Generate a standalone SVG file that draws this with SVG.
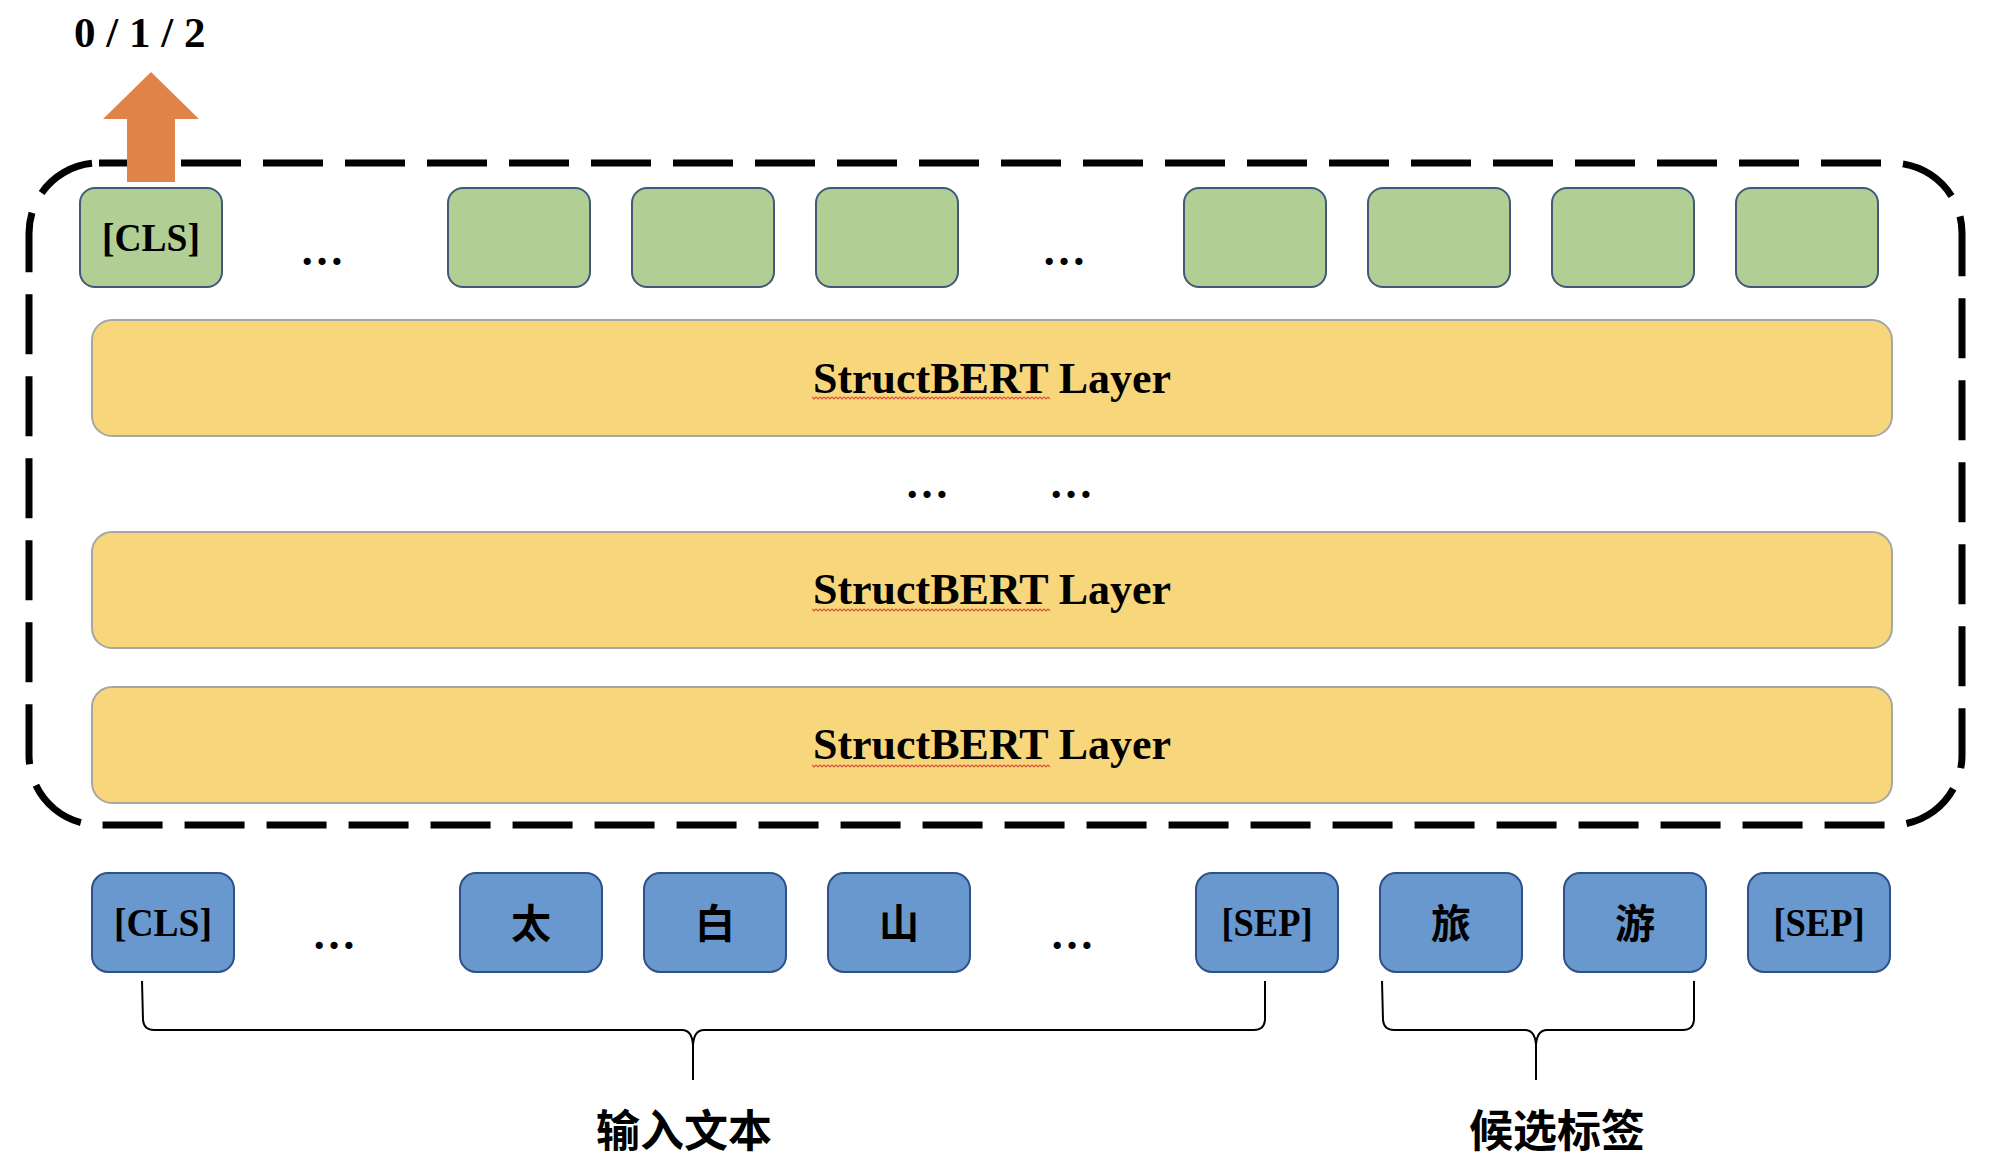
<svg xmlns="http://www.w3.org/2000/svg" width="1990" height="1172" viewBox="0 0 1990 1172">
<defs>
<style>
.bg{fill:#ffffff}
.green{fill:#B1CE95;stroke:#41587A;stroke-width:2}
.blue{fill:#6998CE;stroke:#2E5189;stroke-width:2}
.layer{fill:#F8D77C;stroke:#A6A6A6;stroke-width:2}
.frame{fill:none;stroke:#000;stroke-width:7;stroke-dasharray:60 22}
.tok{font-family:"Liberation Serif","Times New Roman",serif;font-weight:bold;font-size:41px;fill:#000;text-anchor:middle}
.cjk{font-family:"Noto Sans CJK SC","Noto Sans CJK TC",sans-serif;font-weight:bold;font-size:40px;fill:#000;text-anchor:middle}
.lbl{font-family:"Noto Sans CJK SC","Noto Sans CJK TC",sans-serif;font-weight:bold;font-size:44px;fill:#000;text-anchor:middle}
.lay{font-family:"Liberation Serif","Times New Roman",serif;font-weight:bold;font-size:44px;fill:#000;text-anchor:middle}
.dots{font-family:"Liberation Serif","Times New Roman",serif;font-weight:bold;font-size:44px;fill:#000;text-anchor:middle}
.brace{fill:none;stroke:#000;stroke-width:2}
.squig{fill:url(#wave)}
</style>
<pattern id="wave" patternUnits="userSpaceOnUse" x="812" y="0" width="4" height="4">
<path d="M0,0.8 L2,2.8 L4,0.8" fill="none" stroke="#D9503C" stroke-width="1.2"/>
</pattern>
</defs>
<rect class="bg" x="0" y="0" width="1990" height="1172"/>

<g id="output-label">
<text x="74" y="47" font-family="'Liberation Serif','Times New Roman',serif" font-weight="bold" font-size="43">0 / 1 / 2</text>
</g>

<g id="encoder-frame">
<rect class="frame" x="29" y="163" width="1933" height="662" rx="70" ry="70"/>
</g>

<g id="output-arrow">
<polygon points="151,72 199,119 175,119 175,182 127,182 127,119 103,119" fill="#E08348"/>
</g>

<g id="output-tokens">
<g id="out-cls"><rect class="green" x="80" y="188" width="142" height="99" rx="15"/><text class="tok" x="151" y="251" textLength="98" lengthAdjust="spacingAndGlyphs">[CLS]</text></g>
<g id="out-dots1"><text class="dots" x="322" y="265">…</text></g>
<g id="out-2"><rect class="green" x="448" y="188" width="142" height="99" rx="15"/></g>
<g id="out-3"><rect class="green" x="632" y="188" width="142" height="99" rx="15"/></g>
<g id="out-4"><rect class="green" x="816" y="188" width="142" height="99" rx="15"/></g>
<g id="out-dots2"><text class="dots" x="1064" y="265">…</text></g>
<g id="out-6"><rect class="green" x="1184" y="188" width="142" height="99" rx="15"/></g>
<g id="out-7"><rect class="green" x="1368" y="188" width="142" height="99" rx="15"/></g>
<g id="out-8"><rect class="green" x="1552" y="188" width="142" height="99" rx="15"/></g>
<g id="out-9"><rect class="green" x="1736" y="188" width="142" height="99" rx="15"/></g>
</g>

<g id="layer-top">
<rect class="layer" x="92" y="320" width="1800" height="116" rx="20"/>
<text class="lay" x="992" y="393">StructBERT Layer</text>
<rect class="squig" x="812" y="396" width="238" height="4"/>
</g>

<g id="layer-dots">
<text class="dots" x="927" y="498">…</text>
<text class="dots" x="1071" y="498">…</text>
</g>

<g id="layer-mid">
<rect class="layer" x="92" y="532" width="1800" height="116" rx="20"/>
<text class="lay" x="992" y="604">StructBERT Layer</text>
<rect class="squig" x="812" y="608" width="238" height="4"/>
</g>

<g id="layer-bottom">
<rect class="layer" x="92" y="687" width="1800" height="116" rx="20"/>
<text class="lay" x="992" y="759">StructBERT Layer</text>
<rect class="squig" x="812" y="764" width="238" height="4"/>
</g>

<g id="input-tokens">
<g id="in-cls"><rect class="blue" x="92" y="873" width="142" height="99" rx="16"/><text class="tok" x="163" y="936" textLength="98" lengthAdjust="spacingAndGlyphs">[CLS]</text></g>
<g id="in-dots1"><text class="dots" x="334" y="949">…</text></g>
<g id="in-tai"><rect class="blue" x="460" y="873" width="142" height="99" rx="16"/><text class="cjk" x="531" y="938">太</text></g>
<g id="in-bai"><rect class="blue" x="644" y="873" width="142" height="99" rx="16"/><text class="cjk" x="715" y="938">白</text></g>
<g id="in-shan"><rect class="blue" x="828" y="873" width="142" height="99" rx="16"/><text class="cjk" x="899" y="938">山</text></g>
<g id="in-dots2"><text class="dots" x="1072" y="949">…</text></g>
<g id="in-sep1"><rect class="blue" x="1196" y="873" width="142" height="99" rx="16"/><text class="tok" x="1267" y="936" textLength="91" lengthAdjust="spacingAndGlyphs">[SEP]</text></g>
<g id="in-lv"><rect class="blue" x="1380" y="873" width="142" height="99" rx="16"/><text class="cjk" x="1451" y="938">旅</text></g>
<g id="in-you"><rect class="blue" x="1564" y="873" width="142" height="99" rx="16"/><text class="cjk" x="1635" y="938">游</text></g>
<g id="in-sep2"><rect class="blue" x="1748" y="873" width="142" height="99" rx="16"/><text class="tok" x="1819" y="936" textLength="91" lengthAdjust="spacingAndGlyphs">[SEP]</text></g>
</g>

<g id="connectors">
<path class="brace" d="M142,981 L143,1020 Q144,1030 154,1030 L682,1030 Q692,1030 693,1045 L693,1080 M693,1045 Q694,1030 704,1030 L1254,1030 Q1264,1030 1265,1020 L1265,981"/>
<path class="brace" d="M1382,981 L1383,1020 Q1384,1030 1394,1030 L1525,1030 Q1535,1030 1536,1045 L1536,1080 M1536,1045 Q1537,1030 1547,1030 L1683,1030 Q1693,1030 1694,1020 L1694,981"/>
</g>

<g id="label-input">
<text class="lbl" x="684" y="1147">输入文本</text>
</g>
<g id="label-candidates">
<text class="lbl" x="1557" y="1147">候选标签</text>
</g>
</svg>
